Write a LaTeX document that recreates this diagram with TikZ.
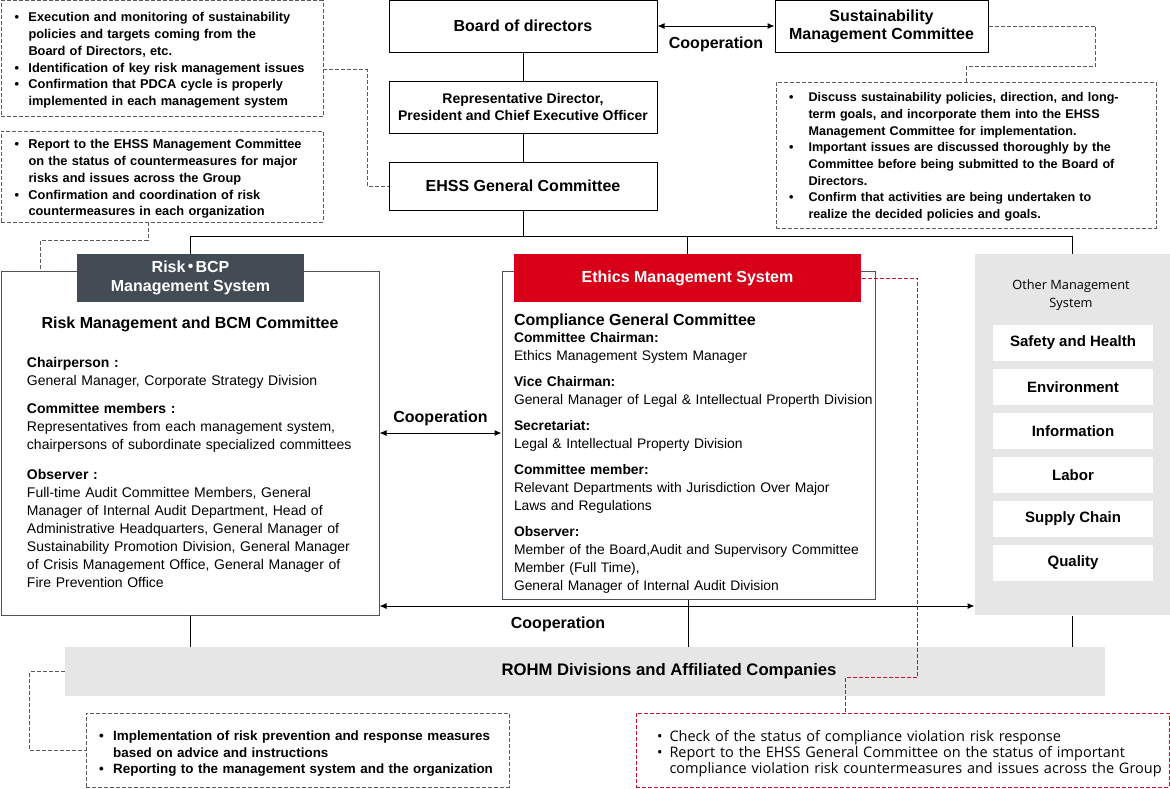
\documentclass[tikz,border=0pt]{standalone}
\usepackage{fontspec}
\setmainfont{Liberation Sans}
\newfontfamily\cjk{Noto Sans CJK JP}
\newfontfamily\meiryo{Open Sans}
\usetikzlibrary{calc}
\usetikzlibrary{arrows.meta}

\definecolor{riskgray}{RGB}{67,76,85}
\definecolor{ethred}{RGB}{215,0,24}
\definecolor{panelgray}{RGB}{230,230,230}
\definecolor{dashgray}{RGB}{90,90,90}
\definecolor{dashred}{RGB}{200,20,40}
\definecolor{framegray}{RGB}{75,82,90}

\newlength\bltw
\newcommand{\blt}[1]{\hangindent=\bltw\hangafter=1\noindent\makebox[\bltw][l]{\textbullet}#1\par}
\newcommand{\fsz}[2]{\fontsize{#1}{#2}\selectfont}

\tikzset{
  solidbox/.style={draw=black, inner sep=0pt, align=center, font=\bfseries\fsz{16}{18}},
  dashbox/.style={draw=dashgray, dash pattern=on 4pt off 2pt, line width=0.9pt},
  dashline/.style={draw=dashgray, dash pattern=on 4pt off 2pt, line width=0.9pt},
  redline/.style={draw=dashred, dash pattern=on 4pt off 2pt, line width=0.9pt},
  bltxt/.style={inner sep=0pt, text width=450pt, align=left, font=\bfseries\fsz{12.8}{16.8}},
  bodytxt/.style={inner sep=0pt, text width=370pt, align=left, font=\fsz{14}{18}},
  header/.style={inner sep=0pt, align=center, text=white, font=\bfseries\fsz{16}{19}},
  itembox/.style={fill=white, inner sep=0pt, minimum width=160pt, minimum height=36pt, font=\bfseries\fsz{15}{18}},
  coop/.style={inner sep=0pt, font=\bfseries\fsz{16}{18}}
}

\begin{document}
\begin{tikzpicture}
[x=1pt,y=-1pt,line width=1pt,>={Latex[length=7pt,width=6pt]}]
\useasboundingbox (0,0) rectangle (1170,788);

% top of the chart
\node[solidbox, minimum width=268pt, minimum height=52pt] (board) at (523,26) {Board of directors};
\node[solidbox, minimum width=213pt, minimum height=52pt] (smc) at (881.5,26) {Sustainability\\Management Committee};
\node[solidbox, minimum width=268pt, minimum height=52pt, font=\bfseries\fsz{14}{16.5}] (ceo) at (523,107) {Representative Director,\\President and Chief Executive Officer};
\node[solidbox, minimum width=268pt, minimum height=48pt] (ehss) at (523,186) {EHSS General Committee};

\draw (board) -- (ceo);
\draw (ceo) -- (ehss);
\draw[<->] (board.east) -- (smc.west) node[coop, midway, below=10pt] (coop1) {Cooperation};

% dashed notes, top
\node[dashbox, minimum width=322pt, minimum height=116pt] (tlA) at (162,58.5) {};
\node[bltxt, anchor=base west] (tlAtxt) at (14,21.7) {\setlength\bltw{14pt}%
\blt{Execution and monitoring of sustainability\newline policies and targets coming from the\newline Board of Directors, etc.}%
\blt{Identification of key risk management issues}%
\blt{Confirmation that PDCA cycle is properly\newline implemented in each management system}};

\node[dashbox, minimum width=322pt, minimum height=91pt] (tlB) at (162,176.5) {};
\node[bltxt, anchor=base west] (tlBtxt) at (14,148.7) {\setlength\bltw{14pt}%
\blt{Report to the EHSS Management Committee\newline on the status of countermeasures for major\newline risks and issues across the Group}%
\blt{Confirmation and coordination of risk\newline countermeasures in each organization}};

\node[dashbox, minimum width=380pt, minimum height=146pt] (trB) at (966,155) {};
\node[bltxt, anchor=base west, font=\bfseries\fsz{12.6}{16.7}] (trBtxt) at (788.7,101.6) {\setlength\bltw{19.3pt}%
\blt{Discuss sustainability policies, direction, and long-\newline term goals, and incorporate them into the EHSS\newline Management Committee for implementation.}%
\blt{Important issues are discussed thoroughly by the\newline Committee before being submitted to the Board of\newline Directors.}%
\blt{Confirm that activities are being undertaken to\newline realize the decided policies and goals.}};

\draw[dashline] (tlA.east) ++(0,11) -- ++(44,0) |- (ehss.west);
\draw[dashline] (tlB.south) ++(-14,0) -- ++(0,18) -| ($(tlB.south west)+(40,49)$);
\draw[dashline] (smc.east) -- ++(107,0) -- ++(0,40) -| (trB.north);

% Risk BCP management system
\node[draw=framegray, minimum width=378pt, minimum height=344pt] (riskbox) at (190,443) {};
\node[header, fill=riskgray, minimum width=227pt, minimum height=48pt] (riskhd) at (190.5,278) {Risk\hspace{-3pt}{\cjk ・}\hspace{-3pt}BCP\\Management System};
\node[inner sep=0pt, font=\bfseries\fsz{16}{18}, anchor=base] (risktitle) at (190,328.7) {Risk Management and BCM Committee};
\node[bodytxt, anchor=base west] (risktxt) at (26.5,367) {\textbf{Chairperson :}\\
General Manager, Corporate Strategy Division\\[10pt]
\textbf{Committee members :}\\
Representatives from each management system,\\
chairpersons of subordinate specialized committees\\[12pt]
\textbf{Observer :}\\
Full-time Audit Committee Members, General\\
Manager of Internal Audit Department, Head of\\
Administrative Headquarters, General Manager of\\
Sustainability Promotion Division, General Manager\\
of Crisis Management Office, General Manager of\\
Fire Prevention Office};

% Ethics management system
\node[draw=framegray, minimum width=373pt, minimum height=328pt] (ethbox) at (688.5,435) {};
\node[header, fill=ethred, minimum width=347pt, minimum height=48pt] (ethhd) at (687.5,278) {Ethics Management System};
\node[inner sep=0pt, font=\bfseries\fsz{16}{18}, anchor=base west] (ethtitle) at (513.5,325.7) {Compliance General Committee};
\node[bodytxt, anchor=base west, font=\fsz{13.85}{18}] (ethtxt) at (513.5,342) {\textbf{Committee Chairman:}\\
Ethics Management System Manager\\[8pt]
\textbf{Vice Chairman:}\\
General Manager of Legal \& Intellectual Properth Division\\[8pt]
\textbf{Secretariat:}\\
Legal \& Intellectual Property Division\\[8pt]
\textbf{Committee member:}\\
Relevant Departments with Jurisdiction Over Major\\
Laws and Regulations\\[8pt]
\textbf{Observer:}\\
Member of the Board,Audit and Supervisory Committee\\
Member (Full Time),\\
General Manager of Internal Audit Division};

% other management system
\node[fill=panelgray, minimum width=195pt, minimum height=361pt] (other) at (1072.5,434.5) {};
\node[inner sep=0pt, align=center, font=\meiryo\fsz{12.8}{18}] (othertitle) at (1071,295) {Other Management\\System};
\node[itembox] (safety) at (1073,343) {Safety and Health};
\node[itembox] (env) at (1073,387) {Environment};
\node[itembox] (info) at (1073,431) {Information};
\node[itembox] (labor) at (1073,475) {Labor};
\node[itembox] (supply) at (1073,519) {Supply Chain};
\node[itembox] (quality) at (1073,563) {Quality};

% bus from the EHSS General Committee
\coordinate (bus) at (523,236);
\draw (ehss) -- (bus);
\draw (riskhd.north) -- (riskhd.north |- bus) -- (other.north |- bus) -- (other.north);
\draw (ethhd.north) -- (ethhd.north |- bus);

% cooperation arrows
\coordinate (coopmid) at (440,433);
\coordinate (coopbot) at (557,606);
\draw[<->] (riskbox.east |- coopmid) -- (ethbox.west |- coopmid) node[coop, midway, above=7pt] (coop2) {Cooperation};
\draw[<->] (riskbox.east |- coopbot) -- (other.west |- coopbot) node[coop, pos=0.3, below=10pt] (coop3) {Cooperation};

% divisions and affiliated companies
\node[fill=panelgray, minimum width=1040pt, minimum height=49pt] (rohm) at (585,671.5) {};
\node[inner sep=0pt, font=\bfseries\fsz{16.7}{18}] (rohmtxt) at (669,671.5) {ROHM Divisions and Affiliated Companies};
\draw (riskbox.south) -- (riskbox.south |- rohm.north);
\draw (ethbox.south) -- (ethbox.south |- rohm.north);
\draw (other.south) -- (other.south |- rohm.north);

% dashed notes, bottom
\node[dashbox, minimum width=423pt, minimum height=74pt] (blB) at (297.5,750) {};
\node[bltxt, anchor=base west, text width=500pt, font=\bfseries\fsz{13.4}{16.5}] (blBtxt) at (98.7,740.5) {\setlength\bltw{14pt}%
\blt{Implementation of risk prevention and response measures\newline based on advice and instructions}%
\blt{Reporting to the management system and the organization}};
\draw[dashline] (rohm.west) -- ++(-35,0) |- (blB.west);

\node[redline, minimum width=533pt, minimum height=74pt] (brB) at (902.5,750) {};
\node[bltxt, anchor=base west, text width=530pt, font=\meiryo\fsz{14.5}{16}] (brBtxt) at (656.5,741) {\setlength\bltw{12.5pt}%
\blt{Check of the status of compliance violation risk response}%
\blt{Report to the EHSS General Committee on the status of important\newline compliance violation risk countermeasures and issues across the Group}};
\draw[redline] (ethhd.east) -- ++(56,0) -- ++(0,399) -| ($(brB.north west)+(210,0)$);

\end{tikzpicture}
\end{document}
